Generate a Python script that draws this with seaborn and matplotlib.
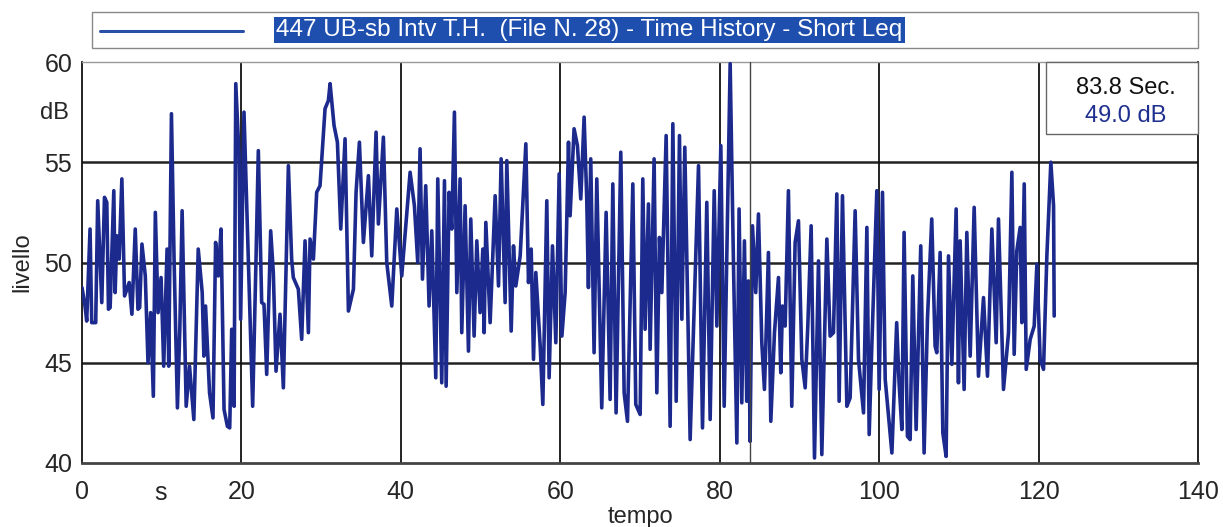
import numpy as np
import pandas as pd
import matplotlib
matplotlib.use("Agg")
import matplotlib.pyplot as plt
import seaborn as sns
from matplotlib.patches import Rectangle
from matplotlib.lines import Line2D

# --- DATA ---
TITLE = "447 UB-sb Intv T.H.  (File N. 28) - Time History - Short Leq"
CURSOR_T = 83.8
CURSOR_DB = 49.0
X_TICKS = [0, 20, 40, 60, 80, 100, 120, 140]
Y_TICKS = [40, 45, 50, 55, 60]

# time (s)
tempo = [
    0.0, 0.38, 0.59, 1.01, 1.22, 1.72, 1.97, 2.48, 2.82, 3.11, 3.32, 3.53, 3.99, 4.16, 4.37, 4.66,
    5.0, 5.34, 5.63, 5.92, 6.26, 6.68, 7.02, 7.23, 7.52, 7.94, 8.28, 8.61, 8.95, 9.2, 9.54, 9.92,
    10.25, 10.67, 10.88, 11.22, 11.55, 11.97, 12.27, 12.56, 13.07, 13.49, 14.03, 14.58, 15.08, 15.29,
    15.5, 16.0, 16.43, 16.76, 17.1, 17.44, 17.82, 18.24, 18.53, 18.78, 19.08, 19.29, 19.7,
    19.9, 20.32, 21.41, 21.83, 22.12, 22.54, 22.83, 23.17, 23.67, 24.0, 24.34, 24.84, 25.26, 25.89,
    26.3, 26.51, 27.14, 27.56, 27.98, 28.4, 28.61, 29.03, 29.44, 29.86, 30.49, 30.91, 31.12, 31.62,
    32.04, 32.46, 33.0, 33.42, 34.05, 34.38, 34.8, 35.3, 35.93, 36.35, 36.89, 37.18, 37.81, 38.23,
    38.86, 39.49, 40.11,
    41.16, 41.7, 42.12, 42.41, 42.71, 43.12, 43.54, 43.88, 44.38, 44.63, 45.13, 45.47, 45.68, 46.05,
    46.39, 46.72, 47.02, 47.43, 47.64, 48.06, 48.48, 48.77, 49.19, 49.53, 49.94, 50.28, 50.45, 50.66,
    51.2, 51.83, 52.25, 52.58, 53.08, 53.29, 53.84, 54.13, 54.42, 54.97, 55.68, 56.01, 56.35, 56.64,
    56.93, 57.48, 57.81, 58.31, 58.6, 59.02, 59.44, 59.86, 60.2, 60.61, 61.03,
    61.23, 61.73, 62.15, 62.57, 62.99, 63.32, 63.53, 63.82, 64.24, 64.58, 65.2, 65.75, 66.25, 66.59,
    67.0, 67.59, 68.01, 68.43, 69.1, 69.47, 70.02, 70.35, 70.64, 71.06, 71.27, 71.77, 72.11, 72.44,
    72.74, 73.28, 73.78, 74.12, 74.54, 74.95, 75.25, 75.62, 76.29, 77.34, 77.84, 78.38, 78.8, 79.31,
    79.64, 80.14, 80.56, 81.31, 81.73, 82.15,
    82.43, 82.77, 83.1, 83.39, 83.6, 83.81, 84.11, 84.52, 84.86, 85.28, 85.61, 85.78, 86.11, 86.41,
    86.87, 87.37, 87.66, 87.87, 88.21, 88.62, 89.04, 89.46, 89.88, 90.3, 90.72, 91.05, 91.47, 91.89,
    92.39, 92.81, 93.44, 93.85, 94.27, 94.69, 94.98, 95.4, 95.95, 96.36, 96.99, 97.41, 98.04, 98.46,
    98.75, 99.08, 99.71, 100.0, 100.42, 100.76, 101.6, 102.2, 102.5, 102.85,
    103.13, 103.55, 103.89, 104.22, 104.64, 105.22, 105.64, 106.06, 106.6, 107.02, 107.23, 107.65,
    107.99, 108.4, 108.7, 109.12, 109.66, 109.95, 110.16, 110.66, 111.0, 111.42, 111.92, 112.46,
    113.09, 113.59, 114.14, 114.68, 114.97, 115.6, 116.23, 116.65, 116.94, 117.27, 117.69, 117.9,
    118.2, 118.45, 118.95, 119.45, 119.79, 120.2, 120.62, 121.04, 121.54, 121.88, 121.96,
]

# level (dB)
livello = [
    48.75, 47.83, 47.08, 51.67, 47.0, 47.0, 53.08, 48.0, 53.25, 53.0, 47.67, 47.75, 53.58, 48.5, 51.33, 50.17,
    54.17, 48.33, 48.67, 49.0, 47.42, 51.67, 47.67, 47.75, 50.92, 49.33, 45.0, 47.5, 43.33, 52.5, 47.5, 49.25,
    44.83, 50.67, 44.83, 57.42, 50.17, 42.75, 46.67, 52.58, 42.83, 44.83, 42.17, 50.67, 48.5, 45.33,
    47.83, 43.5, 42.25, 51.0, 49.33, 51.67, 42.67, 41.83, 41.75, 46.67, 42.83, 58.92, 55.33,
    47.17, 57.5, 42.83, 50.17, 55.58, 48.0, 47.92, 44.42, 51.58, 49.5, 44.58, 47.42, 43.75, 54.83,
    50.17, 49.25, 48.67, 46.17, 51.08, 46.5, 51.17, 50.17, 53.5, 53.83, 57.67, 58.08, 58.92, 56.83,
    56.0, 51.67, 56.17, 47.58, 48.67, 53.5, 56.0, 51.0, 54.33, 50.33, 56.5, 51.92, 56.25, 50.0,
    47.83, 52.67, 49.33,
    54.5, 52.83, 50.0, 55.67, 49.17, 53.83, 47.83, 51.58, 44.25, 54.17, 44.0, 54.08, 43.83, 53.5,
    51.67, 57.5, 48.5, 54.17, 46.5, 52.83, 45.58, 52.17, 46.33, 51.08, 47.5, 50.67, 46.5, 52.0,
    47.0, 53.33, 48.83, 55.17, 48.0, 55.08, 46.58, 50.83, 48.83, 50.33, 55.92, 49.0, 50.67, 45.17,
    49.5, 45.83, 42.92, 53.08, 44.25, 50.83, 46.0, 54.42, 46.33, 48.5, 56.0,
    52.33, 56.67, 55.83, 53.17, 57.25, 53.17, 48.75, 55.17, 45.5, 54.17, 42.75, 52.5, 43.17, 53.92,
    42.5, 55.5, 43.5, 42.08, 53.92, 42.92, 42.42, 54.17, 46.67, 52.92, 45.67, 55.17, 43.5, 51.25,
    48.5, 56.33, 41.83, 56.92, 43.08, 56.33, 47.17, 55.75, 41.17, 54.83, 41.75, 53.0, 42.17, 53.58,
    46.83, 55.83, 42.83, 59.92, 49.83, 41.0,
    52.67, 43.0, 51.08, 43.08, 49.08, 41.08, 51.83, 48.5, 52.42, 46.0, 43.67, 45.83, 50.5, 42.08,
    46.5, 49.25, 44.5, 47.83, 46.83, 53.58, 42.83, 51.0, 52.08, 45.17, 43.75, 46.83, 51.83, 40.25,
    50.08, 40.42, 51.17, 46.33, 46.5, 53.42, 43.08, 53.33, 42.83, 43.25, 52.58, 45.17, 42.5, 51.75,
    41.42, 45.83, 53.58, 43.67, 53.5, 44.17, 40.5, 47.0, 44.0, 41.67,
    51.5, 41.33, 41.17, 49.33, 41.67, 50.83, 40.5, 47.17, 52.17, 45.83, 45.5, 50.5,
    41.5, 40.33, 50.33, 44.92, 52.67, 44.0, 51.08, 43.67, 51.5, 45.33, 52.75, 44.33,
    48.25, 44.33, 51.67, 46.0, 52.17, 43.67, 46.5, 54.5, 45.42, 50.58, 51.75, 47.0,
    53.92, 44.67, 46.17, 46.83, 49.92, 45.17, 44.67, 50.33, 55.0, 52.83, 47.33,
]

LINE_COLOR = "#1c2a8e"
TEXT_BLUE = "#1f2f8f"

sns.set_style("white")
plt.rcParams["font.family"] = ["Liberation Sans", "DejaVu Sans"]

df = pd.DataFrame({"tempo": tempo, "livello": livello})

fig = plt.figure(figsize=(12.23, 5.27), dpi=100)
ax = fig.add_axes([82 / 1223, 1 - 463 / 527, 1116 / 1223, 401 / 527])

sns.lineplot(data=df, x="tempo", y="livello", ax=ax, color=LINE_COLOR,
             linewidth=2.6, estimator=None, sort=False, zorder=3)

ax.set_xlim(0, 140)
ax.set_ylim(40, 60)
ax.set_xticks(X_TICKS)
ax.set_yticks(Y_TICKS)
ax.tick_params(axis="both", labelsize=18, length=4, width=0.8, color="#777777", pad=3)
ax.tick_params(axis="x", pad=8)

# grid
for y in Y_TICKS[1:-1]:
    ax.axhline(y, color="#222222", linewidth=1.8, zorder=1)
for x in X_TICKS[1:-1]:
    ax.axvline(x, color="#111111", linewidth=1.3, zorder=1)
# cursor
ax.axvline(CURSOR_T, color="#444444", linewidth=1.0, zorder=4)

for side in ["left", "right"]:
    ax.spines[side].set_color("#111111")
    ax.spines[side].set_linewidth(1.3)
ax.spines["bottom"].set_color("#444444")
ax.spines["bottom"].set_linewidth(2.0)
ax.spines["top"].set_color("#999999")
ax.spines["top"].set_linewidth(1.0)

ax.set_xlabel("tempo", fontsize=17, labelpad=2)
ax.set_ylabel("livello", fontsize=17, labelpad=8)
ax.text(-0.012, 0.873, "dB", transform=ax.transAxes, fontsize=17, ha="right", va="center")
ax.text(9.8, -0.075, "s", transform=ax.get_xaxis_transform(), fontsize=18, ha="center", va="center")

# info box (top right)
fig.patches.append(Rectangle((1046 / 1223, 1 - 134 / 527), 152 / 1223, 72 / 527,
                             transform=fig.transFigure, facecolor="white",
                             edgecolor="#666666", linewidth=1.0, zorder=5))
fig.text(1126 / 1223, 1 - 88 / 527, f"{CURSOR_T:.1f} Sec.", fontsize=17, ha="center", va="center",
         color="#111111", zorder=6)
fig.text(1126 / 1223, 1 - 116 / 527, f"{CURSOR_DB:.1f} dB", fontsize=17, ha="center", va="center",
         color=TEXT_BLUE, zorder=6)

# legend box (top)
fig.patches.append(Rectangle((92 / 1223, 1 - 48 / 527), 1106 / 1223, 36 / 527,
                             transform=fig.transFigure, facecolor="white",
                             edgecolor="#888888", linewidth=1.0))
fig.lines.append(Line2D([100 / 1223, 243 / 1223], [1 - 31 / 527, 1 - 31 / 527],
                        transform=fig.transFigure, color="#2a4fa8", linewidth=2.2))
fig.text(276 / 1223, 1 - 30 / 527, TITLE, fontsize=17.5, ha="left", va="center", color="white",
         bbox=dict(boxstyle="square,pad=0.1", facecolor="#1e4fae", edgecolor="none"))

fig.savefig("out.png", dpi=100)
